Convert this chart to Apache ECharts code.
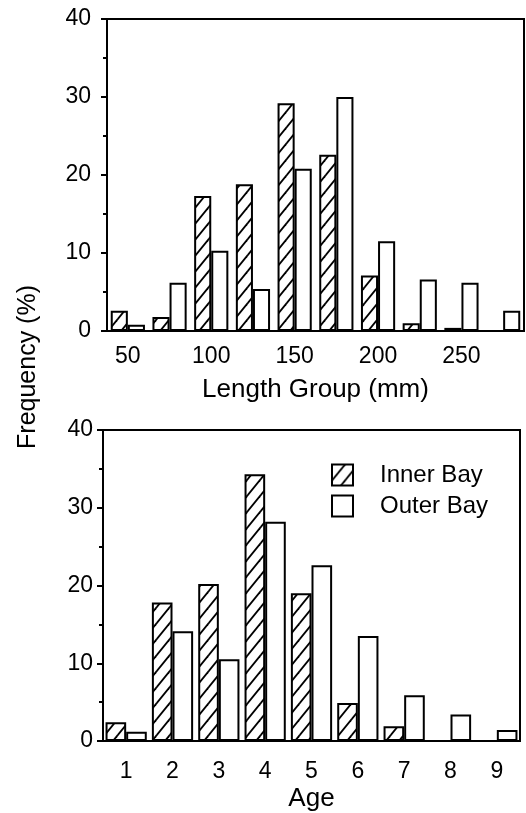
<!DOCTYPE html>
<html lang="en">

<head>
    <meta charset="UTF-8">
    <title>Frequency</title>
    <script src="https://cdn.jsdelivr.net/npm/echarts@6/dist/echarts.min.js"></script>
    <style>
        html, body {
            margin: 0;
            padding: 0;
            background: #fff;
        }
        #app {
            width: 526px;
            height: 813px;
        }
    </style>
</head>

<body>
    <div id="app"></div>
    <script>
        // data
        let lengthGroups = ['50', '75', '100', '125', '150', '175', '200', '225', '250', '275']
        let innerLength = [2.6, 1.8, 17.3, 18.8, 29.2, 22.6, 7.1, 1.0, 0.4, 0]
        let outerLength = [0.8, 6.2, 10.3, 5.4, 20.8, 30.0, 11.5, 6.6, 6.2, 2.6]
        let ages = ['1', '2', '3', '4', '5', '6', '7', '8', '9']
        let innerAge = [2.4, 17.8, 20.2, 34.3, 19.0, 4.9, 1.9, 0, 0]
        let outerAge = [1.2, 14.1, 10.5, 28.2, 22.6, 13.5, 5.9, 3.4, 1.4]
        let yMin = 0, yMax = 40, yStep = 10

        let font = '"Liberation Sans", Arial, Helvetica, sans-serif'

        // diagonal hatch for Inner Bay
        function hatch() {
            let w = 13, h = 16
            let c = document.createElement('canvas')
            c.width = w
            c.height = h
            let ctx = c.getContext('2d')
            ctx.fillStyle = '#fff'
            ctx.fillRect(0, 0, w, h)
            ctx.strokeStyle = '#000'
            ctx.lineWidth = 1.8
            for (let dx of [-w, 0, w]) {
                ctx.beginPath()
                ctx.moveTo(dx - w * 0.5, h * 1.5)
                ctx.lineTo(dx + w * 1.5, -h * 0.5)
                ctx.stroke()
            }
            return c
        }
        let hatchFill = { image: hatch(), repeat: 'repeat' }

        function yAxis(idx, margin) {
            return {
                type: 'value', gridIndex: idx, min: yMin, max: yMax, interval: yStep,
                axisLine: { show: true, lineStyle: { color: '#000', width: 2 } },
                axisTick: { show: true, length: 6, lineStyle: { color: '#000', width: 2 } },
                minorTick: { show: true, splitNumber: 2, length: 4, lineStyle: { color: '#000', width: 2 } },
                splitLine: { show: false },
                axisLabel: { color: '#000', fontSize: 23, fontFamily: font, margin: margin }
            }
        }

        let axisName = { color: '#000', fontSize: 26, fontFamily: font }

        let mCharts = echarts.init(document.getElementById('app'))
        let option = {
            backgroundColor: '#fff',
            animation: false,
            grid: [
                { left: 107, right: 2, top: 19, bottom: 482, show: true, borderColor: '#000', borderWidth: 2 },
                { left: 103, right: 6, top: 430, bottom: 71, show: true, borderColor: '#000', borderWidth: 2 }
            ],
            xAxis: [
                {
                    type: 'category', gridIndex: 0, data: lengthGroups,
                    name: 'Length Group (mm)', nameLocation: 'middle', nameGap: 46, nameTextStyle: axisName,
                    axisLine: { lineStyle: { color: '#000', width: 2 } },
                    axisTick: { alignWithLabel: true, interval: 0, length: 8, lineStyle: { color: '#000', width: 2 } },
                    axisLabel: { interval: 1, color: '#000', fontSize: 23, fontFamily: font, margin: 14 }
                },
                {
                    type: 'category', gridIndex: 1, data: ages,
                    name: 'Age', nameLocation: 'middle', nameGap: 45, nameTextStyle: axisName,
                    axisLine: { lineStyle: { color: '#000', width: 2 } },
                    axisTick: { length: 6, lineStyle: { color: '#000', width: 2 } },
                    axisLabel: { interval: 0, color: '#000', fontSize: 23, fontFamily: font, margin: 19 }
                }
            ],
            yAxis: [yAxis(0, 16), yAxis(1, 10)],
            legend: {
                orient: 'vertical', left: 326, top: 458, icon: 'rect',
                itemWidth: 21, itemHeight: 21, itemGap: 7,
                textStyle: { color: '#000', fontSize: 24, fontFamily: font, padding: [0, 0, 0, 22] },
                data: ['Inner Bay', 'Outer Bay']
            },
            graphic: [{
                type: 'text', x: 28, y: 367, rotation: Math.PI / 2,
                style: {
                    text: 'Frequency (%)', fill: '#000', font: '25px ' + font,
                    align: 'center', verticalAlign: 'middle'
                }
            }],
            series: [
                {
                    name: 'Inner Bay', type: 'bar', xAxisIndex: 0, yAxisIndex: 0, data: innerLength,
                    barGap: '0%', barCategoryGap: '18%',
                    itemStyle: { color: hatchFill, borderColor: '#000', borderWidth: 2 }
                },
                {
                    name: 'Outer Bay', type: 'bar', xAxisIndex: 0, yAxisIndex: 0, data: outerLength,
                    barGap: '0%', barCategoryGap: '18%',
                    itemStyle: { color: '#fff', borderColor: '#000', borderWidth: 2 }
                },
                {
                    name: 'Inner Bay', type: 'bar', xAxisIndex: 1, yAxisIndex: 1, data: innerAge,
                    barGap: '0%', barCategoryGap: '11%',
                    itemStyle: { color: hatchFill, borderColor: '#000', borderWidth: 2 }
                },
                {
                    name: 'Outer Bay', type: 'bar', xAxisIndex: 1, yAxisIndex: 1, data: outerAge,
                    barGap: '0%', barCategoryGap: '11%',
                    itemStyle: { color: '#fff', borderColor: '#000', borderWidth: 2 }
                }
            ]
        }
        mCharts.setOption(option)
    </script>
</body>

</html>
